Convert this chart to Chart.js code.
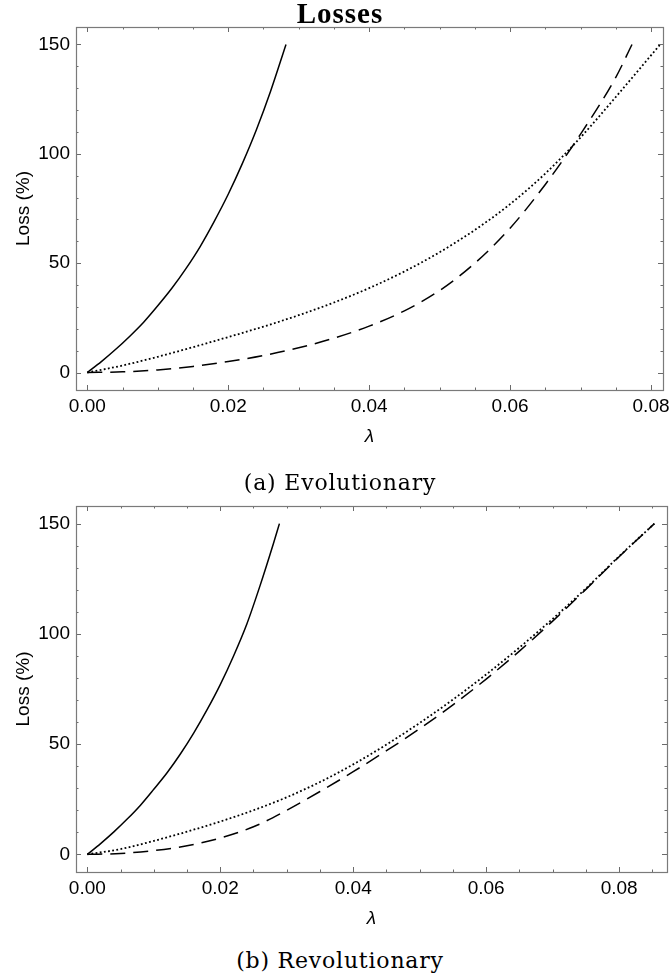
<!DOCTYPE html>
<html>
<head>
<meta charset="utf-8">
<script src="https://cdn.jsdelivr.net/npm/chart.js@4.4.0/dist/chart.umd.min.js"></script>
<style>
    body { margin: 0; background: #fff; width: 670px; height: 980px; position: relative; overflow: hidden; }
    .box { position: absolute; left: 0; width: 670px; }
    .caption { position: absolute; left: 10px; width: 660px; text-align: center; color: #000;
               font-family: 'DejaVu Serif', serif; font-size: 22px; letter-spacing: 0.8px; line-height: 30px; }
    #title { top: -2px; font-family: 'Liberation Serif', serif; font-weight: bold; font-size: 29px; letter-spacing: 1px; }
</style>
</head>
<body>
<div class="box" style="top:0;height:460px"><canvas id="evo"></canvas></div>
<div class="box" style="top:490px;height:452px"><canvas id="rev"></canvas></div>
<div id="title" class="caption">Losses</div>
<div class="caption" style="top:468px">(a) Evolutionary</div>
<div class="caption" style="top:946px">(b) Revolutionary</div>
<script>
// tick labels
const xTicks = [0, 0.02, 0.04, 0.06, 0.08];
const yTicks = [0, 50, 100, 150];
const xMinorStep = 0.005;
const yMinorStep = 10;

// (a) Evolutionary
const evoSolidX = [0, 0.002, 0.004, 0.006, 0.008, 0.01, 0.012, 0.014, 0.016, 0.018, 0.02, 0.022, 0.024, 0.026, 0.0282];
const evoSolidY = [0, 5, 10.5, 16.5, 23, 30.5, 38.5, 47.5, 57.5, 69, 81.5, 95.5, 111, 128.5, 150];
const evoX = [0, 0.005, 0.01, 0.015, 0.02, 0.025, 0.03, 0.035, 0.04, 0.045, 0.05, 0.055, 0.06, 0.065, 0.07, 0.075];
const evoDottedY = [0, 3.2, 7.2, 11.6, 16.2, 21.0, 26.2, 32.0, 38.6, 46.2, 55.0, 65.2, 77.0, 91, 107.5, 126];
const evoDashedY = [0, 0.3, 1.2, 2.8, 5.0, 7.8, 11.3, 15.7, 21.2, 28.2, 37.5, 50, 66, 86, 109, 135];
const evoDottedEnd = [0.0813, 150];
const evoDashedEnd = [0.0773, 150];

// (b) Revolutionary
const revSolidX = [0, 0.002, 0.004, 0.006, 0.008, 0.01, 0.012, 0.014, 0.016, 0.018, 0.02, 0.022, 0.024, 0.026, 0.028, 0.0289];
const revSolidY = [0, 4.9, 10.2, 16, 22.3, 29.5, 37, 45.5, 55, 65.5, 77, 90, 104.5, 122, 141, 150];
const revX = [0, 0.005, 0.01, 0.015, 0.02, 0.025, 0.03, 0.035, 0.04, 0.045, 0.05, 0.055, 0.06, 0.065, 0.07, 0.075, 0.08, 0.0853];
const revDottedY = [0, 2.4, 6.1, 10.3, 14.9, 20.0, 25.9, 32.8, 40.8, 49.8, 59.6, 70.2, 81.6, 93.8, 106.8, 120.6, 135.2, 150];
const revDashedY = [0, 0.4, 1.7, 3.9, 7.4, 12.5, 20, 28.5, 37.5, 47, 57, 67.8, 79.5, 92.2, 105.8, 120.2, 135, 150];

Chart.defaults.font.family = "'Liberation Sans', Arial, sans-serif";
Chart.defaults.font.size = 19;
Chart.defaults.color = '#000';

function points(xs, ys, end) {
    const pts = xs.map((x, i) => ({x: x, y: ys[i]}));
    if (end) pts.push({x: end[0], y: end[1]});
    return pts;
}

function curve(pts, dash, width) {
    return {
        data: pts,
        borderColor: '#000',
        borderWidth: width,
        borderDash: dash,
        pointRadius: 0,
        cubicInterpolationMode: 'monotone',
        fill: false
    };
}

// frame with inward ticks on all four sides
const frameTicks = {
    id: 'frameTicks',
    afterDraw(chart) {
        const {ctx, chartArea: a} = chart;
        const xs = chart.scales.x, ys = chart.scales.y;
        const majorLen = 5, minorLen = 2.5;
        ctx.save();
        ctx.strokeStyle = '#6a6a6a';
        ctx.lineWidth = 1;
        ctx.beginPath();
        for (let k = Math.ceil(xs.min / xMinorStep); k * xMinorStep <= xs.max; k++) {
            const p = Math.round(xs.getPixelForValue(k * xMinorStep)) + 0.5;
            const len = k % 4 === 0 ? majorLen : minorLen;
            ctx.moveTo(p, a.bottom); ctx.lineTo(p, a.bottom - len);
            ctx.moveTo(p, a.top); ctx.lineTo(p, a.top + len);
        }
        for (let k = Math.ceil(ys.min / yMinorStep); k * yMinorStep <= ys.max; k++) {
            const p = Math.round(ys.getPixelForValue(k * yMinorStep)) + 0.5;
            const len = k % 5 === 0 ? majorLen : minorLen;
            ctx.moveTo(a.left, p); ctx.lineTo(a.left + len, p);
            ctx.moveTo(a.right, p); ctx.lineTo(a.right - len, p);
        }
        ctx.stroke();
        ctx.lineWidth = 1.2;
        ctx.strokeStyle = '#7a7a7a';
        ctx.strokeRect(Math.round(a.left) + 0.5, Math.round(a.top) + 0.5,
            Math.round(a.right - a.left), Math.round(a.bottom - a.top));
        ctx.restore();
    }
};

const labelFont = {family: "'Liberation Sans', Arial, sans-serif", size: 19};

function makeChart(id, datasets, xMin, xMax, padTop, padRight) {
    return new Chart(document.getElementById(id), {
        type: 'line',
        data: {datasets: datasets},
        options: {
            responsive: true,
            maintainAspectRatio: false,
            animation: false,
            layout: {padding: {top: padTop, right: padRight, left: 0, bottom: 0}},
            plugins: {legend: {display: false}, tooltip: {enabled: false}},
            scales: {
                x: {
                    type: 'linear',
                    min: xMin,
                    max: xMax,
                    grid: {display: false, drawTicks: false},
                    border: {display: false},
                    afterBuildTicks: s => { s.ticks = xTicks.map(v => ({value: v})); },
                    afterFit: s => { s.height = 70; s.paddingLeft = 0; s.paddingRight = 0; },
                    ticks: {padding: 5, font: labelFont, callback: v => v.toFixed(2)},
                    title: {
                        display: true, text: 'λ',
                        font: {family: labelFont.family, size: 19, style: 'italic'},
                        padding: {top: 0, bottom: 12}
                    }
                },
                y: {
                    type: 'linear',
                    min: -8,
                    max: 158,
                    grid: {display: false, drawTicks: false},
                    border: {display: false},
                    afterBuildTicks: s => { s.ticks = yTicks.map(v => ({value: v})); },
                    afterFit: s => { s.width = 76; s.paddingTop = 0; s.paddingBottom = 0; },
                    ticks: {padding: 6, font: labelFont, callback: v => String(v)},
                    title: {display: true, text: 'Loss (%)', font: labelFont, padding: {top: 12.6, bottom: 0}}
                }
            }
        },
        plugins: [frameTicks]
    });
}

const dotted = [1.8, 2.4];
const dashed = [15, 8];

makeChart('evo', [
    curve(points(evoSolidX, evoSolidY), [], 1.5),
    curve(points(evoX, evoDottedY, evoDottedEnd), dotted, 1.8),
    curve(points(evoX, evoDashedY, evoDashedEnd), dashed, 1.5)
], -0.0016, 0.0817, 27, 7);

makeChart('rev', [
    curve(points(revSolidX, revSolidY), [], 1.5),
    curve(points(revX, revDottedY), dotted, 1.8),
    curve(points(revX, revDashedY), dashed, 1.5)
], -0.0017, 0.0872, 16, 3);
</script>
</body>
</html>
